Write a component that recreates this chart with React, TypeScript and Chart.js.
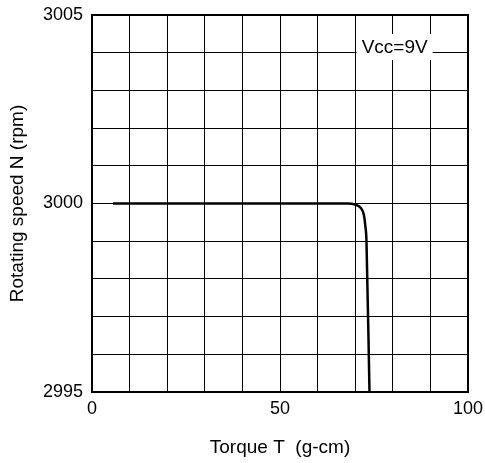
import React, { useEffect, useRef } from "react";
import { Chart, registerables } from "chart.js";

Chart.register(...registerables);

const torque = [5.6, 68, 70, 71.5, 72.3, 72.7, 73.0, 73.8];
const speed = [3000, 3000, 2999.97, 2999.88, 2999.7, 2999.4, 2999.0, 2995];
const xTickLabels = [0, 50, 100];
const yTickLabels = [2995, 3000, 3005];
const annotationText = "Vcc=9V";

const FONT = "Arial, 'Liberation Sans', sans-serif";

const framePlugin = {
  id: "frame",
  afterDraw(chart: any) {
    const { ctx, chartArea } = chart;
    ctx.save();
    ctx.strokeStyle = "#000";
    ctx.lineWidth = 2;
    ctx.strokeRect(chartArea.left, chartArea.top, chartArea.right - chartArea.left, chartArea.bottom - chartArea.top);
    // annotation
    const xs = chart.scales.x;
    const ys = chart.scales.y;
    const cx = xs.getPixelForValue(80.5);
    const cy = ys.getPixelForValue(3004.15);
    ctx.font = `19px ${FONT}`;
    const w = ctx.measureText(annotationText).width;
    ctx.fillStyle = "#fff";
    ctx.fillRect(cx - w / 2 - 5, cy - 13, w + 10, 26);
    ctx.fillStyle = "#000";
    ctx.textAlign = "center";
    ctx.textBaseline = "middle";
    ctx.fillText(annotationText, cx, cy + 1);
    ctx.restore();
  },
};

export default function App() {
  const ref = useRef<HTMLCanvasElement>(null);
  useEffect(() => {
    if (!ref.current) return;
    const chart = new Chart(ref.current, {
      type: "line",
      data: {
        datasets: [
          {
            data: torque.map((t, i) => ({ x: t, y: speed[i] })),
            borderColor: "#000",
            borderWidth: 2.5,
            pointRadius: 0,
            cubicInterpolationMode: "monotone",
            fill: false,
          },
        ],
      },
      options: {
        animation: false,
        responsive: false,
        maintainAspectRatio: false,
        layout: { padding: { top: 15, right: 17, left: 0, bottom: 0 } },
        plugins: { legend: { display: false }, tooltip: { enabled: false } },
        scales: {
          x: {
            type: "linear",
            min: 0,
            max: 100,
            afterFit: (s: any) => {
              s.height = 71;
              s.paddingLeft = 0;
              s.paddingRight = 0;
            },
            ticks: {
              stepSize: 10,
              autoSkip: false,
              maxRotation: 0,
              padding: 6,
              color: "#000",
              font: { size: 18, family: FONT },
              callback: (v: any) => (xTickLabels.includes(Number(v)) ? String(v) : ""),
            },
            grid: { color: "#000", lineWidth: 1, drawTicks: false },
            border: { display: false },
            title: {
              display: true,
              text: "Torque T  (g-cm)",
              color: "#000",
              font: { size: 19, family: FONT },
              padding: { top: 0, bottom: 4 },
            },
          },
          y: {
            type: "linear",
            min: 2995,
            max: 3005,
            afterFit: (s: any) => {
              s.width = 92;
              s.paddingTop = 0;
              s.paddingBottom = 0;
            },
            ticks: {
              stepSize: 1,
              autoSkip: false,
              padding: 9,
              color: "#000",
              font: { size: 18, family: FONT },
              callback: (v: any) => (yTickLabels.includes(Number(v)) ? String(v) : ""),
            },
            grid: { color: "#000", lineWidth: 1, drawTicks: false },
            border: { display: false },
            title: {
              display: true,
              text: "Rotating speed N (rpm)",
              color: "#000",
              font: { size: 19, family: FONT },
              padding: { top: 6, bottom: 0 },
            },
          },
        },
      },
      plugins: [framePlugin],
    } as any);
    return () => chart.destroy();
  }, []);
  return (
    <div style={{ position: "fixed", left: 0, top: 0, width: 485, height: 463, background: "#fff" }}>
      <canvas ref={ref} width={485} height={463} style={{ width: 485, height: 463 }} />
    </div>
  );
}
